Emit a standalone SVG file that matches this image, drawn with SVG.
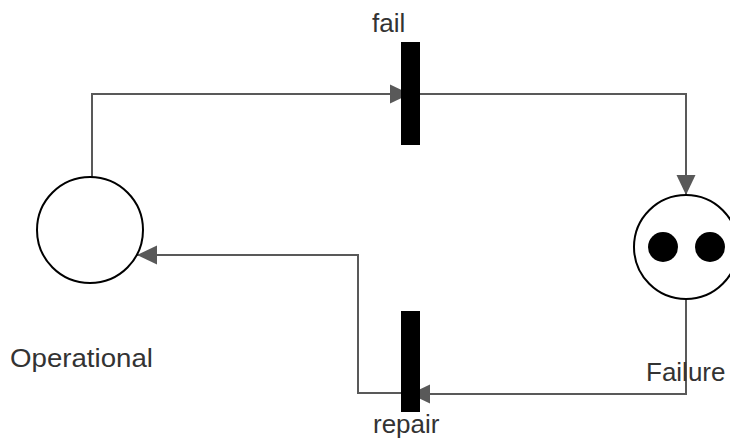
<svg xmlns="http://www.w3.org/2000/svg" width="730" height="443" viewBox="0 0 730 443">
<defs>
<style>
.lbl{font-family:"Liberation Sans",Arial,Helvetica,sans-serif;font-size:26px;fill:#333333}
.place{fill:#ffffff;stroke:#000000;stroke-width:2}
.tok{fill:#000000}
.bar{fill:#000000}
.edge{fill:none;stroke:#595959;stroke-width:2}
</style>
<marker id="arr" viewBox="0 0 20 20" refX="20" refY="10" markerWidth="20" markerHeight="20" markerUnits="userSpaceOnUse" orient="auto">
<path d="M0,0.5 L20,10 L0,19.5 Z" fill="#595959"/>
</marker>
</defs>
<rect x="0" y="0" width="730" height="443" fill="#ffffff"/>
<g id="connectors">
<path class="edge" d="M92,177 V94 H410" marker-end="url(#arr)"/>
<path class="edge" d="M420,94 H686 V195" marker-end="url(#arr)"/>
<path class="edge" d="M686,299 V394 H410" marker-end="url(#arr)"/>
<path class="edge" d="M401,393 H358 V255 H137" marker-end="url(#arr)"/>
</g>
<g id="operational">
<circle class="place" cx="90" cy="230" r="53"/>
<text class="lbl" x="10" y="367" textLength="143" lengthAdjust="spacingAndGlyphs">Operational</text>
</g>
<g id="failure">
<circle class="place" cx="686" cy="247" r="52"/>
<circle class="tok" cx="663" cy="247" r="15"/>
<circle class="tok" cx="710" cy="247" r="15"/>
<text class="lbl" x="646" y="381">Failure</text>
</g>
<g id="fail">
<rect class="bar" x="401" y="42" width="19" height="103"/>
<text class="lbl" x="372" y="32">fail</text>
</g>
<g id="repair">
<rect class="bar" x="401" y="311" width="19" height="101"/>
<text class="lbl" x="373" y="433">repair</text>
</g>
</svg>
